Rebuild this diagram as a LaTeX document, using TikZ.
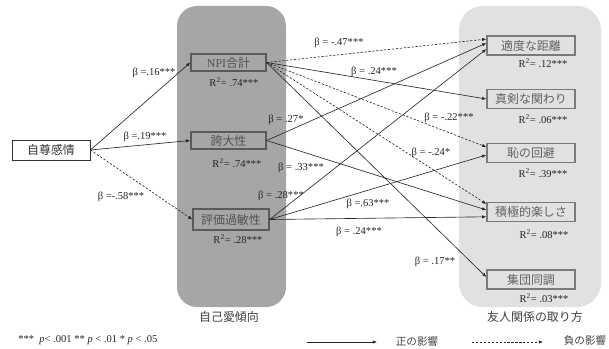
\documentclass[tikz,border=0pt]{standalone}
\usepackage{fontspec}
\setmainfont{Liberation Serif}
\newfontfamily\jpfont{Noto Sans CJK JP}
\usetikzlibrary{arrows.meta}

\definecolor{panelDark}{RGB}{166,166,166}
\definecolor{panelLight}{RGB}{225,225,225}
\definecolor{boxEdge}{RGB}{90,90,90}

\tikzset{
	var/.style={draw=boxEdge, line width=0.9pt, text=black!62, inner sep=0pt,
		font=\jpfont\fontsize{8.5}{10}\selectfont},
	leftvar/.style={var, fill=panelDark, text=black!68, minimum width=1.875cm, minimum height=0.43cm},
	rightvar/.style={var, draw=black!52, fill=panelLight, minimum width=2.2cm, minimum height=0.475cm},
	posarrow/.style={black!85, line width=0.45pt, -{Latex[length=3pt,width=2.4pt]}},
	negarrow/.style={posarrow, dash pattern=on 1.6pt off 1.2pt},
	coef/.style={font=\fontsize{7.5}{9}\selectfont, text=black!85, inner sep=0pt},
	panellabel/.style={font=\jpfont\fontsize{8.5}{10}\selectfont, text=black!75},
}

\begin{document}
\begin{tikzpicture}[x=0.025cm,y=-0.025cm]
	\useasboundingbox (0,0) rectangle (609,348);
	
	% background panels
	\fill[panelDark, rounded corners=0.5cm]  (177,6) rectangle (286,307);
	\fill[panelLight, rounded corners=0.6cm] (459,6) rectangle (601,307);
	\node[panellabel] at (229,317) {自己愛傾向};
	\node[panellabel] at (535,317) {友人関係の取り方};
	
	% variables
	\node[var, fill=white, draw=black!80, text=black!80, line width=0.6pt,
	minimum width=1.95cm, minimum height=0.5cm] (jison) at (51,150) {自尊感情};
	
	\node[leftvar] (npi)   at (228.5,62.5) {{\rmfamily NPI}合計};
	\node[leftvar] (kodai) at (228.5,140.5) {誇大性};
	\node[leftvar, minimum width=1.9cm, minimum height=0.52cm] (kahin) at (231,219.5) {評価過敏性};
	
	\node[rightvar] (tekido)   at (531,45.5)  {適度な距離};
	\node[rightvar] (shinken)  at (531,99)    {真剣な関わり};
	\node[rightvar] (haji)     at (531,153)   {恥の回避};
	\node[rightvar] (sekkyoku) at (531,212)   {積極的楽しさ};
	\node[rightvar] (shudan)   at (531,279.5) {集団同調};
	
	% paths from self-esteem
	\draw[posarrow] (jison.east) -- (npi.west);
	\draw[posarrow] (jison.east) -- (kodai.west);
	\draw[negarrow] (jison.east) -- (kahin.west);
	
	% paths from NPI
	\draw[negarrow] (npi.east) -- ([yshift=0.16cm]tekido.west);
	\draw[posarrow] (npi.east) -- (shinken.west);
	\draw[negarrow] (npi.east) -- ([yshift=0.15cm]haji.west);
	\draw[negarrow] (npi.east) -- ([yshift=0.2cm]sekkyoku.west);
	\draw[posarrow] (npi.east) -- ([yshift=0.06cm]shudan.west);
	
	% paths from grandiosity
	\draw[posarrow] (kodai.east) -- ([yshift=0.06cm]tekido.west);
	\draw[posarrow] (kodai.east) -- ([yshift=0.05cm]sekkyoku.west);
	
	% paths from hypersensitivity
	\draw[posarrow] (kahin.east) -- ([yshift=-0.09cm]tekido.west);
	\draw[posarrow] (kahin.east) -- ([yshift=-0.05cm]haji.west);
	\draw[posarrow] (kahin.east) -- ([yshift=-0.12cm]sekkyoku.west);
	
	% coefficients
	\node[coef] at (154,73)  {β =.16***};
	\node[coef] at (145,137) {β =.19***};
	\node[coef] at (121,197) {β =-.58***};
	\node[coef] at (339,43)  {β = -.47***};
	\node[coef] at (374,72)  {β = .24***};
	\node[coef] at (286,120) {β = .27*};
	\node[coef] at (449,118) {β = -.22***};
	\node[coef] at (431,153) {β = -.24*};
	\node[coef] at (301,168) {β = .33***};
	\node[coef] at (281,196) {β = .28***};
	\node[coef] at (368,204) {β =.63***};
	\node[coef] at (359,232) {β = .24***};
	\node[coef] at (435,262) {β = .17**};
	
	% explained variance
	\node[coef] at (234,82)  {R\textsuperscript{2}= .74***};
	\node[coef] at (237,163) {R\textsuperscript{2}= .74***};
	\node[coef] at (238,239) {R\textsuperscript{2}= .28***};
	\node[coef] at (543,63)  {R\textsuperscript{2}= .12***};
	\node[coef] at (543,119) {R\textsuperscript{2}= .06***};
	\node[coef] at (543,173) {R\textsuperscript{2}= .39***};
	\node[coef] at (544,234) {R\textsuperscript{2}= .08***};
	\node[coef] at (544,298) {R\textsuperscript{2}= .03***};
	
	% legend
	\node[coef, anchor=west] at (18,340)
	{***~~\textit{p}< .001 ** \textit{p} < .01 * \textit{p} < .05};
	\coordinate (posA) at (307,342);
	\coordinate (posB) at (377,342);
	\coordinate (negA) at (472,342);
	\coordinate (negB) at (543,342);
	\draw[posarrow] (posA) -- (posB);
	\draw[negarrow] (negA) -- (negB);
	\node[panellabel, font=\jpfont\fontsize{7.5}{9}\selectfont] at (417,341) {正の影響};
	\node[panellabel, font=\jpfont\fontsize{7.5}{9}\selectfont] at (585,341) {負の影響};
	
\end{tikzpicture}
\end{document}
